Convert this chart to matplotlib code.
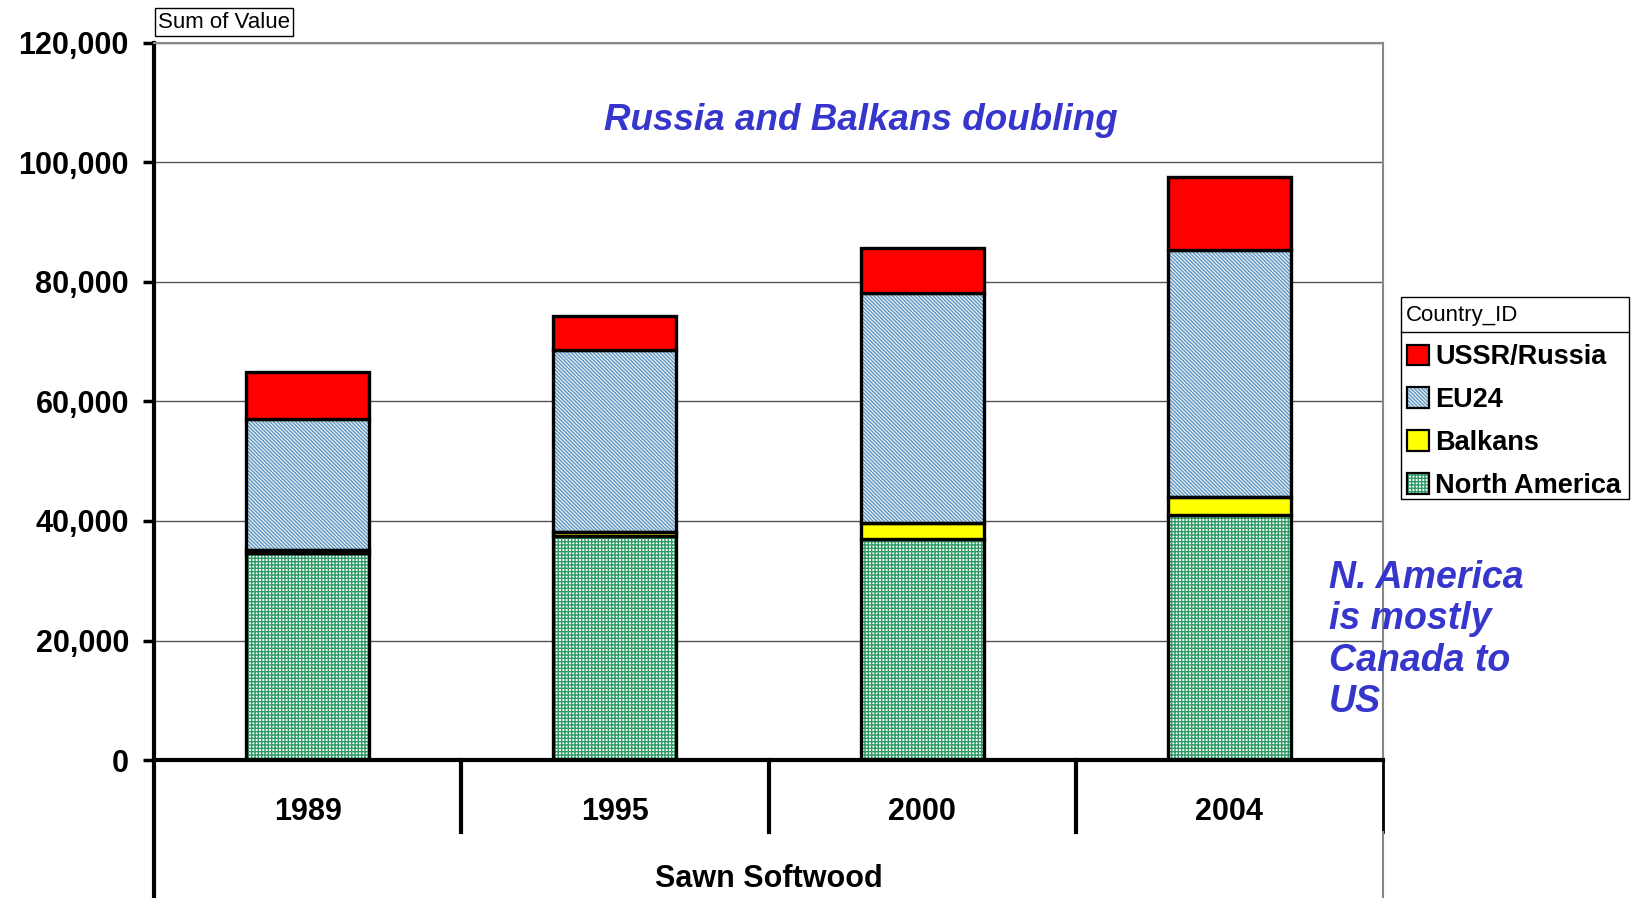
import numpy as np
import matplotlib
matplotlib.use("Agg")
import matplotlib.pyplot as plt
from matplotlib.patches import Patch
from matplotlib.legend_handler import HandlerTuple
from matplotlib.ticker import FuncFormatter

# data
years = ['1989', '1995', '2000', '2004']
north_america = [34700, 37500, 37000, 41000]
balkans = [400, 700, 2600, 3000]
eu24 = [22000, 30400, 38600, 41400]
russia = [7900, 5700, 7500, 12200]

plt.rcParams['font.family'] = ['Liberation Sans', 'DejaVu Sans']
plt.rcParams['hatch.linewidth'] = 1.0

W, H = 1636, 898
fig = plt.figure(figsize=(W / 100, H / 100), dpi=100)
ax = fig.add_axes([154 / W, 1 - 760 / H, (1383 - 154) / W, (760 - 43) / H])

x = np.arange(len(years))
bw = 0.4
blue_txt = '#3636cc'

# styles: (face, hatch colour, hatch)
styles = {
    'North America': ('#ffffff', '#2f9a66', '+++++'),
    'Balkans': ('#ffff00', None, None),
    'EU24': ('#eef0e4', '#5b98cf', '\\' * 9),
    'USSR/Russia': ('#ff0000', None, None),
}
series = [('North America', north_america), ('Balkans', balkans),
          ('EU24', eu24), ('USSR/Russia', russia)]

bottom = np.zeros(len(years))
handles = {}
for name, vals in series:
    face, hcol, hatch = styles[name]
    vals = np.array(vals, dtype=float)
    if hatch:
        ax.bar(x, vals, bw, bottom=bottom, color=face, edgecolor=hcol,
               hatch=hatch, linewidth=0, zorder=3)
        ax.bar(x, vals, bw, bottom=bottom, fill=False, edgecolor='black',
               linewidth=2.4, zorder=4)
        handles[name] = (Patch(facecolor=face, edgecolor=hcol, hatch=hatch, linewidth=0),
                         Patch(fill=False, edgecolor='black', linewidth=1.6))
    else:
        ax.bar(x, vals, bw, bottom=bottom, color=face, edgecolor='black',
               linewidth=2.4, zorder=4)
        handles[name] = Patch(facecolor=face, edgecolor='black', linewidth=1.6)
    bottom += vals

ax.set_xlim(-0.5, 3.5)
ax.set_ylim(0, 120000)
ax.set_yticks(np.arange(0, 120001, 20000))
ax.yaxis.set_major_formatter(FuncFormatter(lambda v, p: '{:,.0f}'.format(v)))
ax.yaxis.grid(True, color='#555555', linewidth=1.0, zorder=0)
ax.set_axisbelow(True)
ax.set_xticks([])
ax.tick_params(axis='y', length=8, width=2.5, pad=10, labelsize=22)
for lab in ax.get_yticklabels():
    lab.set_fontweight('bold')

for s in ['top', 'right']:
    ax.spines[s].set_color('#888888')
    ax.spines[s].set_linewidth(1.5)
ax.spines['left'].set_linewidth(3)
ax.spines['bottom'].set_linewidth(3)
ax.spines['bottom'].set_zorder(5)

# category axis area below the plot
xt = ax.get_xaxis_transform()
for b in [0.5, 1.5, 2.5]:
    ax.plot([b, b], [0, -0.1], color='black', lw=3, transform=xt, clip_on=False)
ax.plot([3.5, 3.5], [0, -0.1], color='black', lw=2, transform=xt, clip_on=False)
ax.plot([3.5, 3.5], [-0.1, -0.2], color='#888888', lw=1.5, transform=xt, clip_on=False)
ax.plot([-0.5, -0.5], [0, -0.2], color='black', lw=3, transform=xt, clip_on=False)
for i, yr in enumerate(years):
    ax.text(i, -0.073, yr, transform=xt, ha='center', va='center',
            fontsize=22, fontweight='bold')
ax.text(1.5, -0.166, 'Sawn Softwood', transform=xt, ha='center', va='center',
        fontsize=22, fontweight='bold')

# annotations
ax.text(1.8, 107000, 'Russia and Balkans doubling', ha='center', va='center',
        fontsize=26.5, fontweight='bold', style='italic', color=blue_txt)
fig.text(1329 / W, 1 - 640 / H, 'N. America\nis mostly\nCanada to\nUS', ha='left', va='center',
         fontsize=27, fontweight='bold', style='italic', color=blue_txt, linespacing=1.2)

fig.text(158 / W, 1 - 22 / H, 'Sum of Value', ha='left', va='center', fontsize=16,
         bbox=dict(boxstyle='square,pad=0.15', facecolor='white', edgecolor='black', lw=1))

# legend with a title row
order = ['USSR/Russia', 'EU24', 'Balkans', 'North America']
leg = fig.legend([handles[n] for n in order], order, loc='upper left',
                 bbox_to_anchor=(1402 / W, 1 - 339 / H), frameon=False,
                 prop={'weight': 'bold', 'size': 19.5}, handlelength=0.8, handleheight=0.8,
                 handletextpad=0.22, labelspacing=0.62, borderaxespad=0, borderpad=0.2,
                 handler_map={tuple: HandlerTuple(ndivide=1, pad=0)})
fl, fr, ft, fb, fm = 1401 / W, 1629 / W, 1 - 297 / H, 1 - 499 / H, 1 - 332 / H
fig.add_artist(plt.Rectangle((fl, fb), fr - fl, ft - fb, transform=fig.transFigure,
                             fill=False, edgecolor='black', lw=1))
fig.add_artist(plt.Line2D([fl, fr], [fm, fm], transform=fig.transFigure, color='black', lw=1))
fig.text(1406 / W, 1 - 315 / H, 'Country_ID', ha='left', va='center', fontsize=16)

fig.savefig('out.png', dpi=100)
